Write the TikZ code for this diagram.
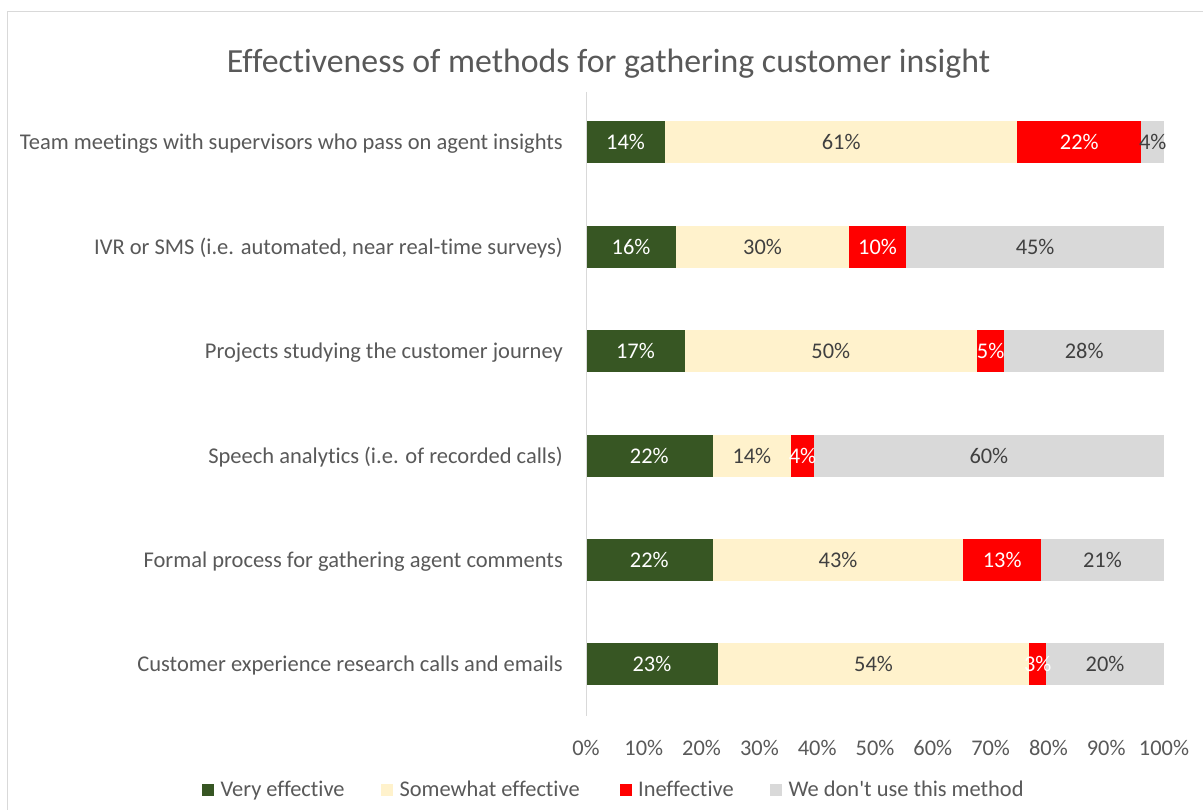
\documentclass[tikz,border=0pt]{standalone}
\usepackage{fontspec}
\setmainfont{Carlito}[Ligatures=NoCommon]
\usepackage{tikz}
\usetikzlibrary{positioning}

\definecolor{veryeff}{HTML}{375623}
\definecolor{someeff}{HTML}{FFF2CC}
\definecolor{ineff}{HTML}{FF0000}
\definecolor{notused}{HTML}{D9D9D9}
\definecolor{labelgrey}{HTML}{595959}
\definecolor{valgrey}{HTML}{404040}

\tikzset{
	txt/.style={inner sep=0pt, font=\fontsize{22.4}{26}\selectfont},
	catlabel/.style={txt, anchor=base east, text=labelgrey, font=\fontsize{22.5}{26}\selectfont},
	vallabel/.style={txt, anchor=base, text=#1},
	ticklabel/.style={txt, anchor=base, text=labelgrey},
	legendbox/.style={fill=#1, minimum size=12pt, inner sep=0pt, anchor=south west},
	legendtext/.style={txt, anchor=base west, text=labelgrey}
}

\begin{document}
\begin{tikzpicture}[x=1pt, y=-1pt]
	\useasboundingbox (0,0) rectangle (1203,810);
	\fill[white] (0,0) rectangle (1203,810);
	\draw[notused] (7.5,11.5) rectangle (1220,830);
	\node[inner sep=0pt, anchor=base, text=labelgrey, font=\fontsize{33.8}{40}\selectfont] (title) at (608.5,73) {Effectiveness of methods for gathering customer insight};
	% bars: y / category / cumulative ends / labels
	\foreach \yc/\cat/\a/\b/\c/\la/\lb/\lc/\ld [count=\i] in {
		142/{Team meetings with supervisors who pass on agent insights}/13.7/74.6/96.1/14/61/22/4,
		247/{IVR or SMS (i.e. automated, near real-time surveys)}/15.6/45.5/55.4/16/30/10/45,
		351/{Projects studying the customer journey}/17.1/67.6/72.4/17/50/5/28,
		456/{Speech analytics (i.e. of recorded calls)}/21.9/35.5/39.4/22/14/4/60,
		560/{Formal process for gathering agent comments}/21.9/65.3/78.7/22/43/13/21,
		664/{Customer experience research calls and emails}/22.8/76.7/79.6/23/54/3/20}{
		\fill[veryeff] (586,\yc-21) rectangle (586+5.78*\a,\yc+21);
		\fill[someeff] (586+5.78*\a,\yc-21) rectangle (586+5.78*\b,\yc+21);
		\fill[ineff] (586+5.78*\b,\yc-21) rectangle (586+5.78*\c,\yc+21);
		\fill[notused] (586+5.78*\c,\yc-21) rectangle (1164,\yc+21);
		\node[catlabel] (cat\i) at (563,\yc+7.5) {\cat};
		\node[vallabel=white] (va\i) at (586+2.89*\a,\yc+7.5) {\la\%};
		\node[vallabel=valgrey] (vb\i) at (586+2.89*\a+2.89*\b,\yc+7.5) {\lb\%};
		\node[vallabel=white] (vc\i) at (586+2.89*\b+2.89*\c,\yc+7.5) {\lc\%};
		\node[vallabel=valgrey] (vd\i) at (586+2.89*\c+289,\yc+7.5) {\ld\%};
	}
	% axis
	\draw[notused, line width=1pt] (586,92) coordinate (axtop) -- (586,716) coordinate (axbot);
	\foreach \k in {0,...,10}{
		\pgfmathtruncatemacro{\pc}{10*\k}
		\node[ticklabel] (tick\k) at (586+57.8*\k,755) {\pc\%};
	}
	% legend
	\foreach \lx/\col/\name [count=\j] in {202/veryeff/Very effective, 381/someeff/Somewhat effective, 619.5/ineff/Ineffective, 770/notused/We don\textquotesingle t use this method}{
		\node[legendbox=\col] (lbox\j) at (\lx,796) {};
		\node[legendtext, right=6pt of lbox\j.south east, anchor=base west] (ltext\j) {\name};
	}
\end{tikzpicture}
\end{document}
